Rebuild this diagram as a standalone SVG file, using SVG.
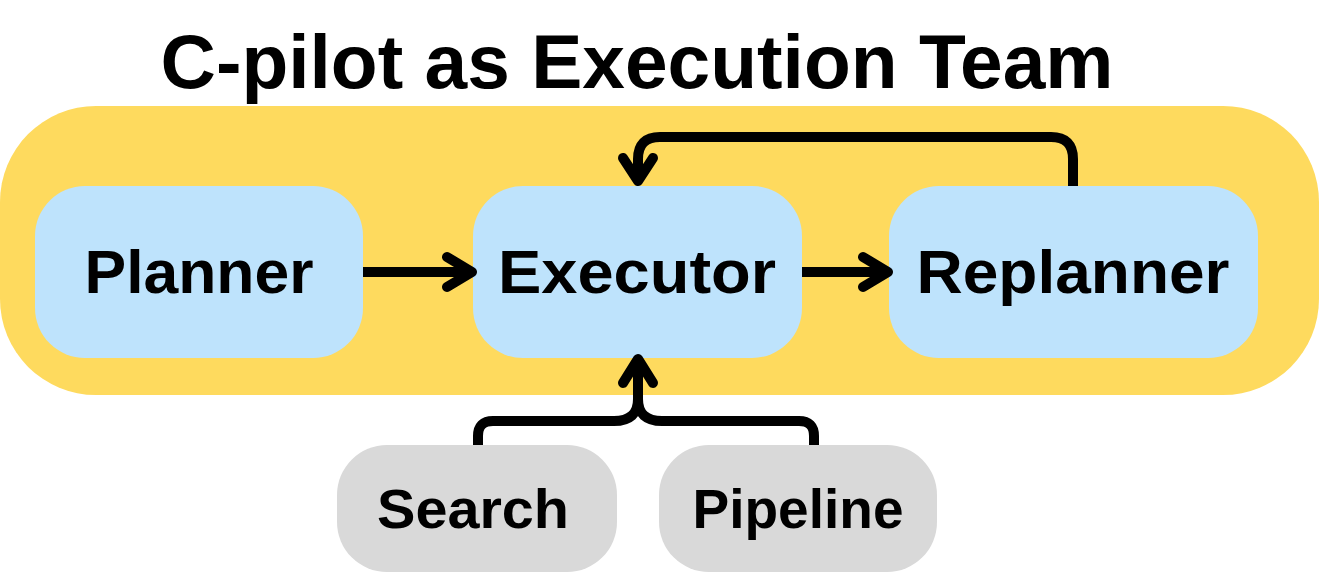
<svg xmlns="http://www.w3.org/2000/svg" width="1320" height="574" viewBox="0 0 1320 574">
  <style>
    .lbl { font-family: "Liberation Sans", Arial, sans-serif; font-weight: bold; fill: #000; text-anchor: middle; }
    .blue { fill: #BEE3FC; }
    .gray { fill: #D9D9D9; }
    .conn { fill: none; stroke: #000; stroke-width: 10; stroke-linecap: round; stroke-linejoin: round; }
    .wire { fill: none; stroke: #000; stroke-width: 10; stroke-linecap: butt; stroke-linejoin: round; }
  </style>
  <rect width="1320" height="574" fill="#FFFFFF"/>
  <g id="title">
    <text class="lbl" x="637" y="88" font-size="76" textLength="953" lengthAdjust="spacingAndGlyphs">C-pilot as Execution Team</text>
  </g>
  <g id="team">
    <rect x="0" y="106" width="1319" height="289" rx="96" ry="96" fill="#FEDA5E"/>
  </g>
  <g id="planner">
    <rect class="blue" x="35" y="186" width="328" height="172" rx="50" ry="50"/>
    <text class="lbl" x="199" y="293" font-size="62" textLength="229" lengthAdjust="spacingAndGlyphs">Planner</text>
  </g>
  <g id="executor">
    <rect class="blue" x="473" y="186" width="329" height="172" rx="50" ry="50"/>
    <text class="lbl" x="637" y="293" font-size="62" textLength="278" lengthAdjust="spacingAndGlyphs">Executor</text>
  </g>
  <g id="replanner">
    <rect class="blue" x="889" y="186" width="369" height="172" rx="50" ry="50"/>
    <text class="lbl" x="1073" y="293" font-size="62" textLength="313" lengthAdjust="spacingAndGlyphs">Replanner</text>
  </g>
  <g id="search">
    <rect class="gray" x="337" y="445" width="280" height="127" rx="50" ry="50"/>
    <text class="lbl" x="473" y="528" font-size="55" textLength="192" lengthAdjust="spacingAndGlyphs">Search</text>
  </g>
  <g id="pipeline">
    <rect class="gray" x="659" y="445" width="278" height="127" rx="50" ry="50"/>
    <text class="lbl" x="798" y="528" font-size="55" textLength="211" lengthAdjust="spacingAndGlyphs">Pipeline</text>
  </g>
  <g id="connectors">
    <path class="wire" d="M363,272 H470"/>
    <path class="conn" d="M447,257 L472,272 L447,287"/>
    <path class="wire" d="M802,272 H886"/>
    <path class="conn" d="M863,257 L888,272 L863,287"/>
    <path class="wire" d="M1073,186 V159 Q1073,137 1051,137 H660 Q638,137 638,159 V179"/>
    <path class="conn" d="M623,158 L638,181 L653,158"/>
    <path class="wire" d="M478,445 V436 Q478,421 493,421 H614 Q638,421 638,399 V361"/>
    <path class="wire" d="M814,445 V436 Q814,421 799,421 H662 Q638,421 638,399"/>
    <path class="conn" d="M623,383 L638,359 L653,383"/>
  </g>
</svg>
